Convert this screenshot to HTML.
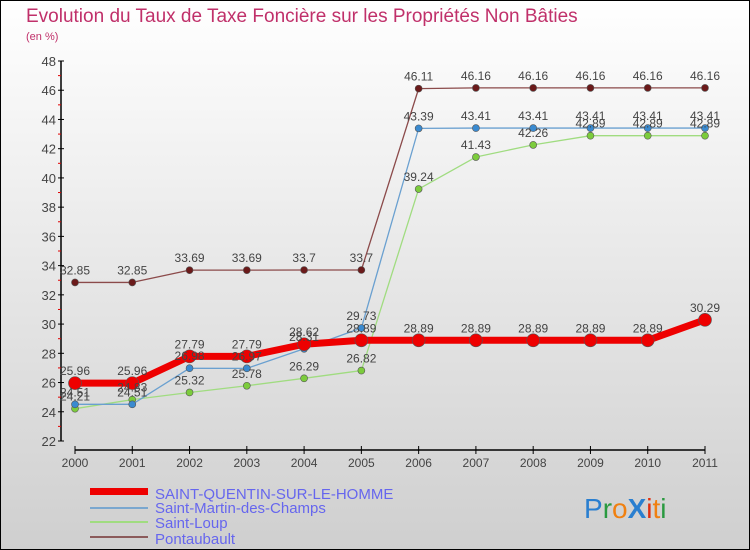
<!DOCTYPE html>
<html><head><meta charset="utf-8"><style>
html,body{margin:0;padding:0;}
body{width:750px;height:550px;overflow:hidden;font-family:"Liberation Sans",sans-serif;}
</style></head><body>
<svg id="chart" width="750" height="550" xmlns="http://www.w3.org/2000/svg" style="display:block">
<defs><linearGradient id="bg" x1="0" y1="0" x2="0" y2="1"><stop offset="0" stop-color="#ffffff"/><stop offset="1" stop-color="#cfcfcf"/></linearGradient></defs>
<rect x="0.5" y="0.5" width="749" height="549" fill="url(#bg)" stroke="#000"/>
<text x="26" y="22" font-size="19" fill="#c0306a">Evolution du Taux de Taxe Foncière sur les Propriétés Non Bâties</text>
<text x="26" y="40" font-size="11" fill="#c0306a">(en %)</text>
<g id="axes"></g><g id="series"></g><g id="labels"></g>
<g>
<rect x="90" y="488" width="58" height="7" fill="#ee0000"/>
<text x="155" y="499" font-size="15" fill="#6666ee">SAINT-QUENTIN-SUR-LE-HOMME</text>
<line x1="90" y1="508" x2="148" y2="508" stroke="#7aa7cf" stroke-width="2"/>
<text x="155" y="513" font-size="15" fill="#6666ee">Saint-Martin-des-Champs</text>
<line x1="90" y1="522" x2="148" y2="522" stroke="#a0dc80" stroke-width="2"/>
<text x="155" y="528" font-size="15" fill="#6666ee">Saint-Loup</text>
<line x1="90" y1="537" x2="148" y2="537" stroke="#8b5a5a" stroke-width="2"/>
<text x="155" y="544" font-size="15" fill="#6666ee">Pontaubault</text>
</g>
<g font-size="28" font-family="Liberation Sans,sans-serif">
<text x="584" y="518"><tspan fill="#2a7fd0">P</tspan><tspan fill="#2a9a40">r</tspan><tspan fill="#f08010">o</tspan><tspan fill="#2a7fd0" font-weight="bold">X</tspan><tspan fill="#e03010">i</tspan><tspan fill="#f08010">t</tspan><tspan fill="#2a9a40">i</tspan></text>
</g>
</svg>
<script>
const years = ["2000","2001","2002","2003","2004","2005","2006","2007","2008","2009","2010","2011"];
const yTicks = [22,24,26,28,30,32,34,36,38,40,42,44,46,48];
const saintQuentin = [25.96,25.96,27.79,27.79,28.62,28.89,28.89,28.89,28.89,28.89,28.89,30.29];
const saintMartin = [24.51,24.51,26.98,26.97,28.31,29.73,43.39,43.41,43.41,43.41,43.41,43.41];
const saintLoup = [24.21,24.83,25.32,25.78,26.29,26.82,39.24,41.43,42.26,42.89,42.89,42.89];
const pontaubault = [32.85,32.85,33.69,33.69,33.7,33.7,46.11,46.16,46.16,46.16,46.16,46.16];

const NS="http://www.w3.org/2000/svg";
const x0=75,x1=705,yMin=22,yMax=48,yTop=61,yBot=441;
const xs=i=>x0+(x1-x0)*i/(years.length-1);
const ys=v=>yBot-(v-yMin)/(yMax-yMin)*(yBot-yTop);
function mk(tag,attrs,parent){const e=document.createElementNS(NS,tag);for(const k in attrs)e.setAttribute(k,attrs[k]);parent.appendChild(e);return e;}
const axes=document.getElementById('axes'),ser=document.getElementById('series'),lab=document.getElementById('labels');

let e=mk('line',{x1:61,y1:yTop,x2:61,y2:yBot,stroke:'#000','stroke-width':1.5},axes);


e=mk('line',{x1:x0,y1:450,x2:x1,y2:450,stroke:'#000','stroke-width':1.5},axes);


yTicks.forEach((t,i)=>{
  mk('line',{x1:58,y1:ys(t),x2:64,y2:ys(t),stroke:'#000'},axes);
  if(i<yTicks.length-1) mk('line',{x1:58,y1:ys(t+1),x2:61,y2:ys(t+1),stroke:'#e00000'},axes);
  const tx=mk('text',{x:56,y:ys(t)+5,'text-anchor':'end','font-size':13,fill:'#444'},axes);
  tx.textContent=t;
  
  
});
years.forEach((y,i)=>{
  mk('line',{x1:xs(i),y1:446,x2:xs(i),y2:454,stroke:'#000'},axes);
  const tx=mk('text',{x:xs(i),y:467,'text-anchor':'middle','font-size':12,fill:'#444'},axes);
  tx.textContent=y;
  
  
});
function series(vals,color,w,r,dot,name){
  const p=mk('polyline',{points:vals.map((v,i)=>xs(i)+','+ys(v)).join(' '),fill:'none',stroke:color,'stroke-width':w,'stroke-linejoin':'round'},ser);
  
  
  vals.forEach((v,i)=>{
    const c=mk('circle',{cx:xs(i),cy:ys(v),r:r,fill:dot,stroke:'#555','stroke-width':0.6},ser);
    
    
    const t=mk('text',{x:xs(i),y:ys(v)-8,'text-anchor':'middle','font-size':12,fill:'#444'},lab);
    t.textContent=v;
    
    
  });
}
series(pontaubault,'#8b4a4a',1.3,3.5,'#6b1a1a','pontaubault');
series(saintLoup,'#a0dc80',1.3,3.5,'#7ccc3c','saint-loup');
series(saintMartin,'#6aa0d0',1.3,3.5,'#3a8ad0','saint-martin');
series(saintQuentin,'#ee0000',7,6.5,'#ee0000','saint-quentin');
</script>
</body></html>
